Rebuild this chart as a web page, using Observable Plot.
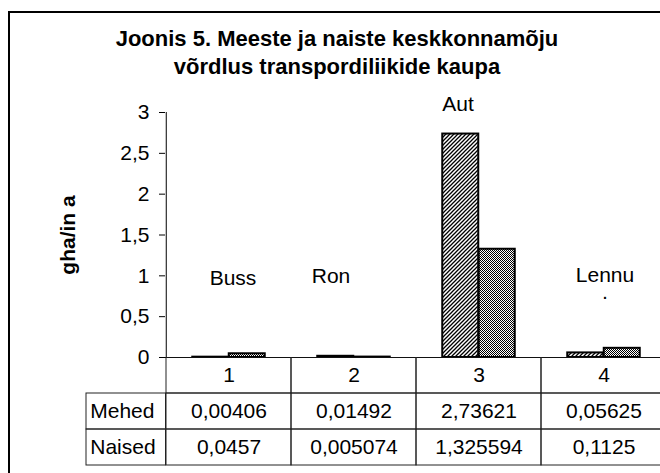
<!DOCTYPE html>
<html>
<head>
<meta charset="utf-8">
<script src="https://cdn.jsdelivr.net/npm/d3@7"></script>
<script src="https://cdn.jsdelivr.net/npm/@observablehq/plot@0.6"></script>
<style>
  html, body { margin: 0; padding: 0; background: white; overflow: hidden; }
  #wrap { position: relative; width: 660px; height: 473px; overflow: hidden; font-family: "Liberation Sans", Arial, sans-serif; }
  #wrap > svg.plot-main, #wrap > svg.plot-table { position: absolute; left: 0; }
  #title { position: absolute; left: 9px; top: 25px; width: 656px; text-align: center; font-weight: bold; font-size: 22px; line-height: 28px; color: #000; }
  #border { position: absolute; left: 8px; top: 11px; width: 720px; height: 520px; border: 2px solid #000; pointer-events: none; }
</style>
</head>
<body>
<svg width="0" height="0" style="position:absolute">
  <defs>
    <pattern id="hatch" patternUnits="userSpaceOnUse" width="4" height="4">
      <rect width="4" height="4" fill="white"/>
      <path d="M-1,1 l2,-2 M0,4 l4,-4 M3,5 l2,-2" stroke="black" stroke-width="1.3"/>
    </pattern>
    <pattern id="dots" patternUnits="userSpaceOnUse" width="2" height="2">
      <rect width="2" height="2" fill="white"/>
      <rect width="1" height="1" fill="black"/>
      <rect x="1" y="1" width="1" height="1" fill="black"/>
    </pattern>
  </defs>
</svg>
<div id="wrap"></div>
<script>
// ---- data ----
const titleLines = ["Joonis 5. Meeste ja naiste keskkonnamõju", "võrdlus transpordiliikide kaupa"];
const yLabel = "gha/in a";
const cats = ["1", "2", "3", "4"];
const seriesNames = ["Mehed", "Naised"];
const mehed = [0.00406, 0.01492, 2.73621, 0.05625];
const naised = [0.0457, 0.005074, 1.325594, 0.1125];
const yTicks = [0, 0.5, 1, 1.5, 2, 2.5, 3];
const yTickLabels = ["0", "0,5", "1", "1,5", "2", "2,5", "3"];
const modeLabels = ["Buss", "Ron", "Aut", "Lennu\n·"];
const modeLabelLevels = [0.97, 1.0, 3.1, 0.875];

// ---- layout ----
const W = 660, H = 473;
const plotLeft = 165, plotRight = 667, plotTop = 112, plotBottom = 357;
const bw = (plotRight - plotLeft) / cats.length;
const groupPad = 26.25;
const modeLabelDx = [4, -23, -21, 1];
const font = "'Liberation Sans', Arial, sans-serif";

const fmt = v => String(v).replace(".", ",");
const rows = cats.map((c, i) => ({cat: c, mehed: mehed[i], naised: naised[i]}));

const wrap = document.getElementById("wrap");

const main = Plot.plot({
  width: W, height: H,
  marginTop: plotTop, marginBottom: H - plotBottom, marginLeft: plotLeft, marginRight: 0,
  style: {fontFamily: font, fontSize: "21px", color: "black", background: "white"},
  x: {type: "band", domain: cats, range: [plotLeft, plotRight], padding: 0, axis: null},
  y: {domain: [0, 3], ticks: yTicks, tickFormat: d => yTickLabels[yTicks.indexOf(d)], tickSize: 6, tickPadding: 10, label: null},
  marks: [
    Plot.barY(rows, {x: "cat", y: "mehed", fill: "url(#hatch)", stroke: "black", strokeWidth: 2, insetLeft: groupPad, insetRight: bw / 2}),
    Plot.barY(rows, {x: "cat", y: "naised", fill: "url(#dots)", stroke: "black", strokeWidth: 2, insetLeft: bw / 2, insetRight: groupPad}),
    Plot.ruleY([0], {stroke: "black"}),
    Plot.ruleX([cats[0]], {x: d => d, dx: -bw / 2, stroke: "black"}),
    ...modeLabels.map((t, i) => Plot.text([t], {x: () => cats[i], y: () => modeLabelLevels[i], text: d => d, dx: modeLabelDx[i], lineHeight: 1, fill: "black"})),
    Plot.text([yLabel], {frameAnchor: "left", textAnchor: "middle", dx: -97, rotate: -90, fontWeight: "bold", fill: "black"})
  ]
});
main.classList.add("plot-main");
main.style.top = "0px";
wrap.appendChild(main);

// ---- data table below the axis ----
const rowKeys = ["hdr", ...seriesNames];
const cells = [];
cats.forEach((c, i) => {
  cells.push({cat: c, row: "hdr", label: c});
  cells.push({cat: c, row: "Mehed", label: fmt(mehed[i])});
  cells.push({cat: c, row: "Naised", label: fmt(naised[i])});
});
const tableH = H - plotBottom;
const table = Plot.plot({
  width: W, height: tableH,
  marginTop: 0, marginBottom: 0, marginLeft: 0, marginRight: 0,
  style: {fontFamily: font, fontSize: "21px", color: "black", background: "transparent"},
  x: {type: "band", domain: cats, range: [plotLeft, plotRight], padding: 0, axis: null},
  y: {type: "band", domain: rowKeys, range: [0, 108], padding: 0, axis: null},
  marks: [
    Plot.cell(cells, {x: "cat", y: "row", fill: "none", stroke: "#222"}),
    Plot.cell(seriesNames, {x: () => cats[0], y: d => d, fill: "none", stroke: "#222", insetLeft: -80, insetRight: bw}),
    Plot.text(cells, {x: "cat", y: "row", text: "label", fill: "black"}),
    Plot.text(seriesNames, {x: () => cats[0], y: d => d, text: d => d, dx: -bw / 2 - 76, textAnchor: "start", fill: "black"})
  ]
});
table.classList.add("plot-table");
table.style.top = plotBottom + "px";
wrap.appendChild(table);

const title = document.createElement("div");
title.id = "title";
title.innerHTML = titleLines.join("<br>");
wrap.appendChild(title);

const border = document.createElement("div");
border.id = "border";
wrap.appendChild(border);
</script>
</body>
</html>
